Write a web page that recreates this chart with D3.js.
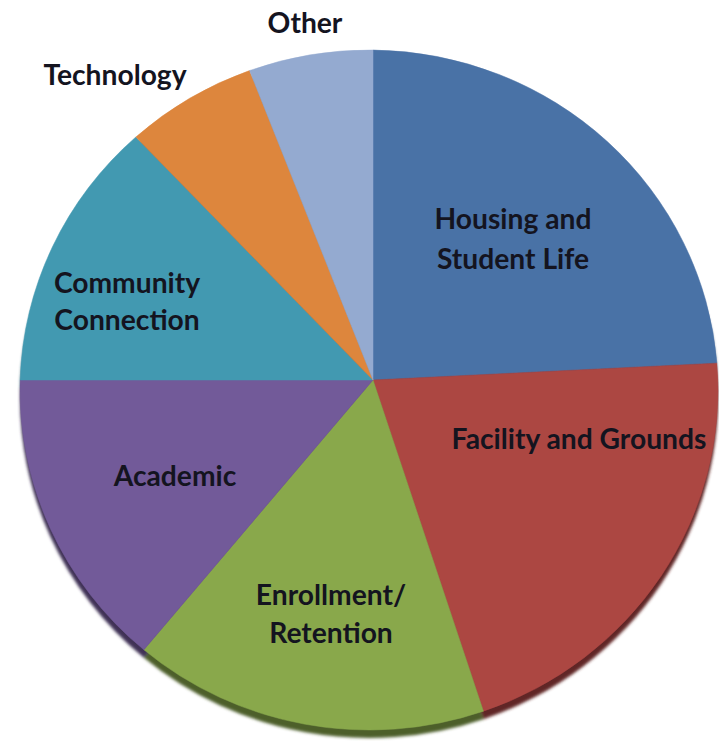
<!DOCTYPE html>
<html>
<head>
<meta charset="utf-8">
<script src="https://cdn.jsdelivr.net/npm/d3@7"></script>
<style>
  html, body { margin: 0; padding: 0; background: #ffffff; }
  svg { display: block; }
</style>
</head>
<body>
<svg id="chart" width="719" height="744"></svg>
<script>
// ---- data ----
const categories = ["Housing and Student Life", "Facility and Grounds", "Enrollment/Retention", "Academic", "Community Connection", "Technology", "Other"];
const values = [24.2, 20.8, 16.0, 14.0, 12.9, 6.2, 5.9];
const colors = ["#4A72A6", "#AC4643", "#89A84C", "#725A99", "#4399B1", "#DD863E", "#94AAD0"];
const labelLines = [["Housing and", "Student Life"], ["Facility and Grounds"], ["Enrollment/", "Retention"], ["Academic"], ["Community", "Connection"], ["Technology"], ["Other"]];
const labelPos = [[513, 229, 269], [579, 449], [331, 605, 643], [175, 486], [127, 293, 330], [115, 85], [305, 33]];

// ---- layout ----
const svg = d3.select("#chart");
const apex = { x: 373, y: 380 };
const ell = { cx: 369, cy: 390, rx: 349, ry: 340 };

const pie = d3.pie().sort(null).value(d => d)(values);

function edgePoint(theta) {
  const u0 = (apex.x - ell.cx) / ell.rx, v0 = (apex.y - ell.cy) / ell.ry;
  const du = Math.sin(theta), dv = -Math.cos(theta);
  const b = u0 * du + v0 * dv;
  const c = u0 * u0 + v0 * v0 - 1;
  const t = -b + Math.sqrt(b * b - c);
  return [ell.cx + ell.rx * (u0 + t * du), ell.cy + ell.ry * (v0 + t * dv)];
}

function slicePath(d) {
  const p0 = edgePoint(d.startAngle), p1 = edgePoint(d.endAngle);
  const large = (d.endAngle - d.startAngle) > Math.PI ? 1 : 0;
  return `M${apex.x},${apex.y}L${p0[0]},${p0[1]}A${ell.rx},${ell.ry} 0 ${large} 1 ${p1[0]},${p1[1]}Z`;
}

const defs = svg.append("defs");
defs.append("filter").attr("id", "blur").attr("x", "-10%").attr("y", "-10%").attr("width", "120%").attr("height", "120%")
  .append("feGaussianBlur").attr("stdDeviation", 1.5);
defs.append("filter").attr("id", "soft").append("feGaussianBlur").attr("stdDeviation", 0.6);

// shadow rim
svg.append("g").attr("transform", "translate(0,8)").attr("filter", "url(#blur)")
  .selectAll("path").data(pie).join("path")
  .attr("d", slicePath)
  .attr("fill", (d, i) => d3.color(colors[i]).darker(1.6));

// slices
svg.append("g").attr("filter", "url(#soft)")
  .selectAll("path").data(pie).join("path")
  .attr("d", slicePath)
  .attr("fill", (d, i) => colors[i])
  .attr("stroke", (d, i) => colors[i])
  .attr("stroke-width", 0.5);

// labels
const fontFamily = "Lato, 'Open Sans', sans-serif";
const probe = svg.append("text").attr("font-family", fontFamily).attr("font-weight", 700)
  .attr("font-size", 100).text(labelLines[1][0]);
const w100 = probe.node().getComputedTextLength();
probe.remove();
const fontSize = Math.max(16, Math.min(30, 100 * 255 / w100));

const lg = svg.append("g").attr("font-family", fontFamily).attr("font-weight", 700)
  .attr("font-size", fontSize).attr("fill", "#14141f").attr("text-anchor", "middle");
labelLines.forEach((lines, i) => {
  const pos = labelPos[i];
  lines.forEach((line, j) => {
    lg.append("text").attr("x", pos[0]).attr("y", pos[1 + j]).text(line);
  });
});
</script>
</body>
</html>
